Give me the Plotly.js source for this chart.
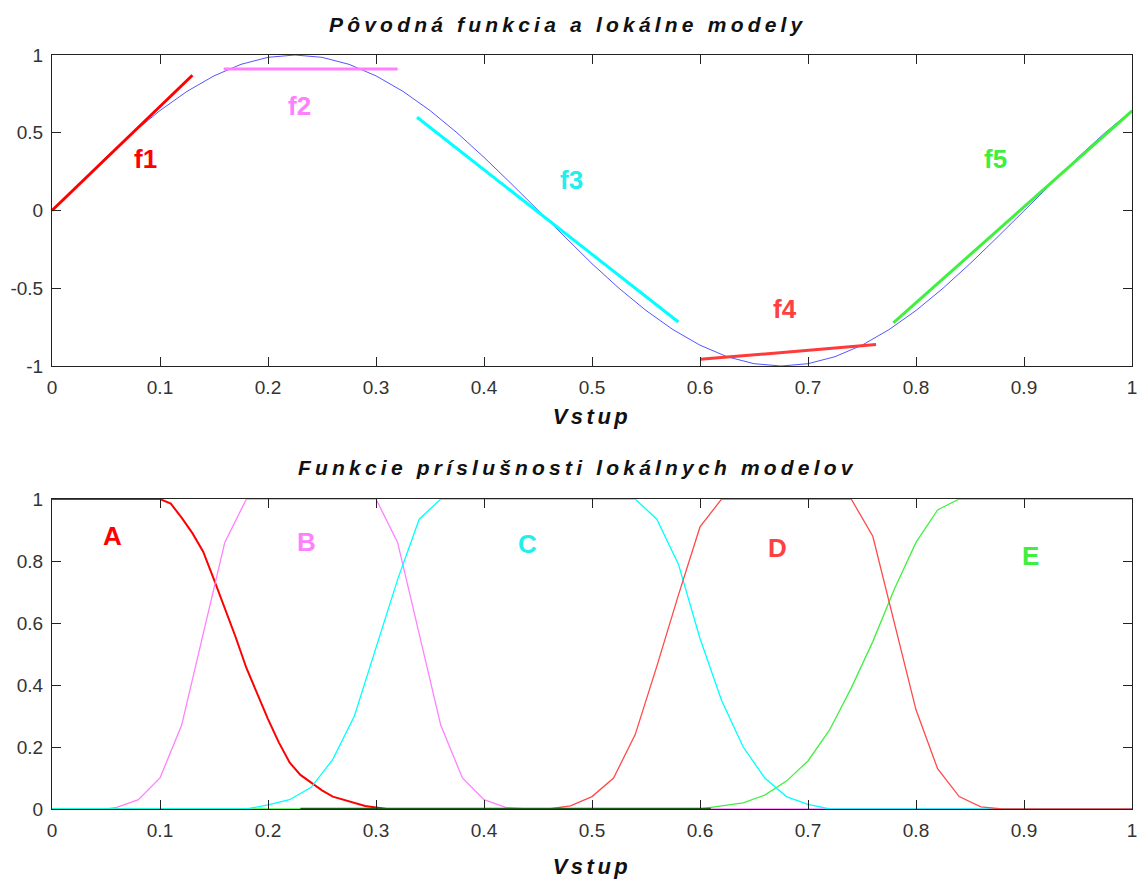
<!DOCTYPE html>
<html>
<head>
<meta charset="utf-8">
<script src="https://cdn.plot.ly/plotly-3.0.1.min.js"></script>
<style>
  html, body { margin: 0; padding: 0; background: #fff; }
  #chart { width: 1137px; height: 879px; }
  .xtitle, .x2title { letter-spacing: 3.5px; }
  .annotation-text[data-unformatted^="Pôvodná"], .annotation-text[data-unformatted^="Funkcie"] { letter-spacing: 4.2px; }
</style>
</head>
<body>
<div id="chart"></div>
<script>
// ---- Top chart: original function (sampled) ----
const sineX = [0,0.025,0.05,0.075,0.1,0.125,0.15,0.175,0.2,0.225,0.25,0.275,0.3,0.325,0.35,0.375,0.4,0.425,0.45,0.475,0.5,0.525,0.55,0.575,0.6,0.625,0.65,0.675,0.7,0.725,0.75,0.775,0.8,0.825,0.85,0.875,0.9,0.925,0.95,0.975,1.0];
const sineY = [0,0.174,0.342,0.5,0.643,0.766,0.866,0.94,0.985,1,0.985,0.94,0.866,0.766,0.643,0.5,0.342,0.174,0,-0.174,-0.342,-0.5,-0.643,-0.766,-0.866,-0.94,-0.985,-1,-0.985,-0.94,-0.866,-0.766,-0.643,-0.5,-0.342,-0.174,0,0.174,0.342,0.5,0.643];

// local linear models
const f1X = [0, 0.13],    f1Y = [0, 0.87];
const f2X = [0.159, 0.32], f2Y = [0.91, 0.91];
const f3X = [0.338, 0.58], f3Y = [0.60, -0.717];
const f4X = [0.60, 0.763], f4Y = [-0.957, -0.862];
const f5X = [0.779, 1.0],  f5Y = [-0.723, 0.64];

const modelLabels = ["f1","f2","f3","f4","f5"];
const modelLabelX = [0.087, 0.229, 0.481, 0.679, 0.874];
const modelLabelY = [0.33, 0.672, 0.196, -0.633, 0.331];

// ---- Bottom chart: membership functions ----
const aX = [0,0.10,0.11,0.12,0.13,0.14,0.15,0.16,0.17,0.18,0.19,0.20,0.21,0.22,0.23,0.24,0.25,0.26,0.27,0.28,0.29,0.30,0.31];
const aY = [1,1,0.985,0.94,0.89,0.83,0.74,0.65,0.555,0.455,0.37,0.29,0.215,0.15,0.11,0.085,0.06,0.04,0.03,0.02,0.01,0.005,0];

const bX = [0.05,0.06,0.08,0.10,0.12,0.14,0.16,0.18,0.30,0.32,0.34,0.36,0.38,0.40,0.42,0.44,1.0];
const bY = [0,0.005,0.03,0.10,0.27,0.56,0.86,1,1,0.86,0.56,0.27,0.10,0.03,0.005,0,0];

const eX = [0,0.60,0.62,0.64,0.66,0.68,0.70,0.72,0.74,0.76,0.78,0.80,0.82,0.84,1.0];
const eY = [0,0,0.01,0.02,0.045,0.09,0.155,0.255,0.39,0.54,0.71,0.86,0.965,1,1];

const cX = [0,0.18,0.20,0.22,0.24,0.26,0.28,0.30,0.32,0.34,0.36,0.54,0.56,0.58,0.60,0.62,0.64,0.66,0.68,0.70,0.72,1.0];
const cY = [0,0,0.013,0.03,0.07,0.16,0.30,0.52,0.74,0.935,1,1,0.935,0.79,0.55,0.35,0.2,0.1,0.04,0.015,0,0];

const dX = [0.46,0.48,0.50,0.52,0.54,0.56,0.58,0.60,0.62,0.74,0.76,0.78,0.80,0.82,0.84,0.86,0.88,1.0];
const dY = [0,0.01,0.04,0.10,0.24,0.46,0.69,0.91,1,1,0.88,0.60,0.32,0.13,0.04,0.007,0,0];

const darkX = [0.23, 0.61], darkY = [0, 0];

const mfLabels = ["A","B","C","D","E"];
const mfLabelX = [0.056, 0.236, 0.44, 0.672, 0.906];
const mfLabelY = [0.88, 0.861, 0.854, 0.841, 0.815];

const xTickVals = [0,0.1,0.2,0.3,0.4,0.5,0.6,0.7,0.8,0.9,1];
const xTickText = ['0','0.1','0.2','0.3','0.4','0.5','0.6','0.7','0.8','0.9','1'];
const yTopTickVals = [-1,-0.5,0,0.5,1];
const yTopTickText = ['-1','-0.5','0','0.5','1'];
const yBotTickVals = [0,0.2,0.4,0.6,0.8,1];
const yBotTickText = ['0','0.2','0.4','0.6','0.8','1'];

// ---- styles ----
const cRed = '#ff0000', cPink = '#ff80ff', cCyan = '#00ffff', cRed2 = '#ff4a4a', cGreen = '#40f040';
const modelColors = [cRed, cPink, '#22eeee', '#ff4040', '#40ee40'];
const mfColors = [cRed, cPink, '#22eeee', '#ff4040', '#40ee40'];

const traces = [
  {x: sineX, y: sineY, xaxis:'x', yaxis:'y', mode:'lines', line:{color:'#5555ff', width:1}},
  {x: f1X, y: f1Y, xaxis:'x', yaxis:'y', mode:'lines', line:{color:cRed, width:3}},
  {x: f2X, y: f2Y, xaxis:'x', yaxis:'y', mode:'lines', line:{color:cPink, width:3}},
  {x: f3X, y: f3Y, xaxis:'x', yaxis:'y', mode:'lines', line:{color:cCyan, width:3}},
  {x: f4X, y: f4Y, xaxis:'x', yaxis:'y', mode:'lines', line:{color:'#ff3a3a', width:3}},
  {x: f5X, y: f5Y, xaxis:'x', yaxis:'y', mode:'lines', line:{color:cGreen, width:3}},

  {x: aX, y: aY, xaxis:'x2', yaxis:'y2', mode:'lines', line:{color:cRed, width:2}},
  {x: bX, y: bY, xaxis:'x2', yaxis:'y2', mode:'lines', line:{color:cPink, width:1.3}},
  {x: eX, y: eY, xaxis:'x2', yaxis:'y2', mode:'lines', line:{color:cGreen, width:1.3}},
  {x: cX, y: cY, xaxis:'x2', yaxis:'y2', mode:'lines', line:{color:cCyan, width:1.3}},
  {x: dX, y: dY, xaxis:'x2', yaxis:'y2', mode:'lines', line:{color:cRed2, width:1.3}},
  {x: darkX, y: darkY, xaxis:'x2', yaxis:'y2', mode:'lines', line:{color:'#1b5e1b', width:2.5}}
];

const tickFont = {family:'Liberation Sans, Arial, sans-serif', size:19, color:'#333'};
const titleFont = {family:'Liberation Sans, Arial, sans-serif', size:22, color:'#111', weight:'bold', style:'italic'};
const labelFontBase = {family:'Liberation Sans, Arial, sans-serif', size:26, weight:'bold'};

function axisCommon(extra) {
  return Object.assign({
    showline:true, linecolor:'#222', linewidth:1, mirror:'ticks',
    ticks:'inside', ticklen:9, tickcolor:'#222', tickwidth:1,
    showgrid:false, zeroline:false, tickfont:tickFont, fixedrange:true,
    ticklabeloverflow:'allow', ticklabelstandoff:4
  }, extra);
}

const annotations = [];
modelLabels.forEach((t,i)=>annotations.push({
  text:t, x:modelLabelX[i], y:modelLabelY[i], xref:'x', yref:'y', showarrow:false,
  font:Object.assign({color:modelColors[i]}, labelFontBase)
}));
mfLabels.forEach((t,i)=>annotations.push({
  text:t, x:mfLabelX[i], y:mfLabelY[i], xref:'x2', yref:'y2', showarrow:false,
  font:Object.assign({color:mfColors[i]}, labelFontBase)
}));
annotations.push({text:'Pôvodná funkcia a lokálne modely', x:0.478, y:1.0398, xref:'paper', yref:'paper',
  xanchor:'center', yanchor:'middle', showarrow:false,
  font:{family:'Liberation Sans, Arial, sans-serif', size:21, color:'#111', weight:'bold', style:'italic'}});
annotations.push({text:'Funkcie príslušnosti lokálnych modelov', x:0.487, y:0.4523, xref:'paper', yref:'paper',
  xanchor:'center', yanchor:'middle', showarrow:false,
  font:{family:'Liberation Sans, Arial, sans-serif', size:21, color:'#111', weight:'bold', style:'italic'}});

const layout = {
  width:1137, height:879,
  margin:{l:52, r:5, t:55, b:70},
  paper_bgcolor:'#fff', plot_bgcolor:'#fff',
  showlegend:false,
  xaxis: axisCommon({range:[0,1], domain:[0,1], anchor:'y', tickvals:xTickVals, ticktext:xTickText,
    title:{text:'Vstup', font:titleFont, standoff:11}}),
  yaxis: axisCommon({range:[-1,1], domain:[0.5875,1], anchor:'x', tickvals:yTopTickVals, ticktext:yTopTickText}),
  xaxis2: axisCommon({range:[0,1], domain:[0,1], anchor:'y2', tickvals:xTickVals, ticktext:xTickText,
    title:{text:'Vstup', font:titleFont, standoff:22}}),
  yaxis2: axisCommon({range:[0,1], domain:[0,0.4111], anchor:'x2', tickvals:yBotTickVals, ticktext:yBotTickText}),
  annotations: annotations
};

Plotly.newPlot('chart', traces, layout, {displayModeBar:false, staticPlot:true});
</script>
</body>
</html>
